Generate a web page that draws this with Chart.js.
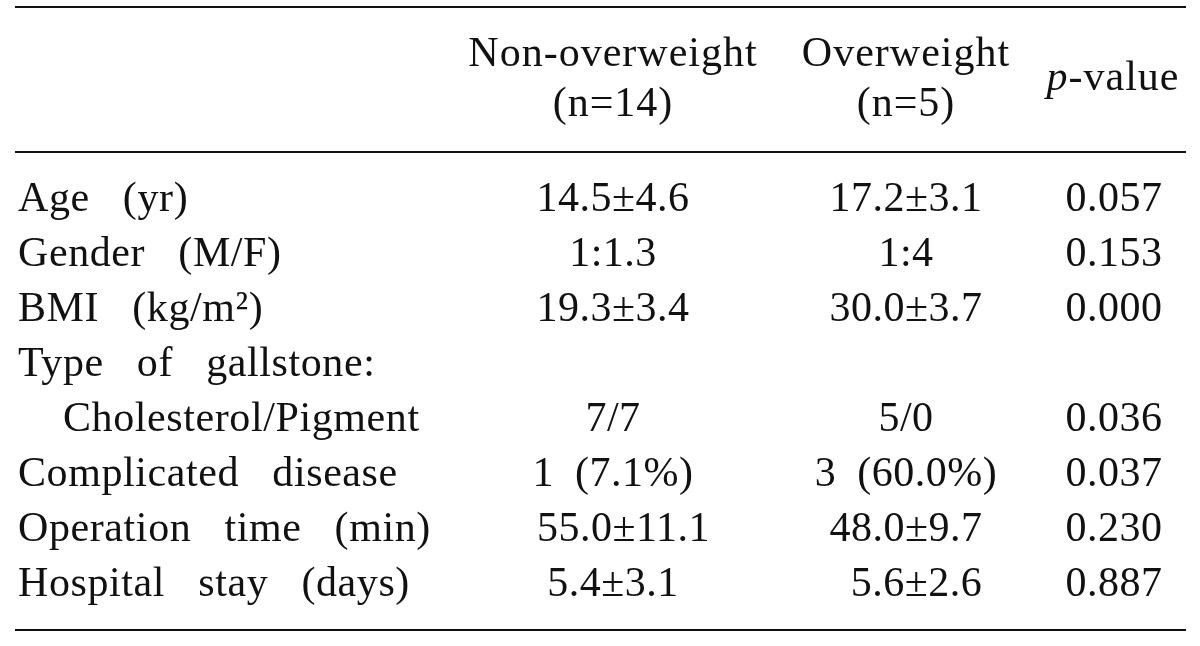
<!DOCTYPE html>
<html lang="en">
<head>
<meta charset="UTF-8">
<title>Gallstone patients: non-overweight vs overweight</title>
<script src="https://cdn.jsdelivr.net/npm/chart.js"></script>
<style>
  html, body { margin: 0; padding: 0; background: #fff; }
</style>
</head>
<body>
<canvas id="tableChart" width="1200" height="646"></canvas>
<script>
// Table content
const rowLabels = ['Age (yr)', 'Gender (M/F)', 'BMI (kg/m\u00B2)', 'Type of gallstone:', 'Cholesterol/Pigment',
                   'Complicated disease', 'Operation time (min)', 'Hospital stay (days)'];
const nonOverweight = ['14.5\u00B14.6', '1:1.3', '19.3\u00B13.4', '', '7/7', '1 (7.1%)', ' 55.0\u00B111.1', '5.4\u00B13.1'];
const overweight = ['17.2\u00B13.1', '1:4', '30.0\u00B13.7', '', '5/0', '3 (60.0%)', '48.0\u00B19.7', ' 5.6\u00B12.6'];
const pValues = ['0.057', '0.153', '0.000', '', '0.036', '0.037', '0.230', '0.887'];
const nonOverweightHeader = ['Non-overweight', '(n=14)'];
const overweightHeader = ['Overweight', '(n=5)'];
const pValueHeader = ['p', '-value'];   // first part is italic

// Layout, in scale units (x: reference px, y: body row index)
const colAnchor = [18, 613, 906, 1114];
const pHeaderAnchor = 1113;
const headerRows = [-2.636, -1.727];
const pHeaderRow = -2.2;
const ruleRows = [-3.71, -1.07, 7.62];
const ruleSpan = [15, 1186];
const labelIndent = [0, 0, 0, 0, 45, 0, 0, 0];

const FONT = '"Liberation Serif", "Times New Roman", serif';

// Rules, then text drawn at every point of a dataset instead of a marker
const cellTextPlugin = {
    id: 'cellText',
    beforeDatasetsDraw(chart) {
        const { ctx } = chart;
        const x = chart.scales.x, y = chart.scales.y;
        ctx.save();
        ctx.strokeStyle = '#111';
        ctx.lineWidth = 2;
        ruleRows.forEach(r => {
            const py = Math.round(y.getPixelForValue(r));
            ctx.beginPath();
            ctx.moveTo(x.getPixelForValue(ruleSpan[0]), py);
            ctx.lineTo(x.getPixelForValue(ruleSpan[1]), py);
            ctx.stroke();
        });
        ctx.restore();
    },
    afterDatasetsDraw(chart) {
        const { ctx } = chart;
        chart.data.datasets.forEach((ds, di) => {
            const meta = chart.getDatasetMeta(di);
            meta.data.forEach((pt, j) => {
                const segs = ds.texts[j];
                if (!segs || !segs.length) return;
                ctx.save();
                ctx.fillStyle = '#111';
                ctx.textBaseline = 'alphabetic';
                ctx.textAlign = 'left';
                ctx.letterSpacing = ds.letterSpacing || '0px';
                ctx.wordSpacing = ds.wordSpacing || '0px';
                const parts = segs.map(s => {
                    ctx.font = (s.italic ? 'italic ' : '') + '42px ' + FONT;
                    return { text: s.text, font: ctx.font, w: ctx.measureText(s.text).width };
                });
                const total = parts.reduce((a, p) => a + p.w, 0);
                let px = pt.x;
                if (ds.align === 'center') px -= total / 2;
                if (ds.indent) px += ds.indent[j] || 0;
                parts.forEach(p => {
                    ctx.font = p.font;
                    ctx.fillText(p.text, px, pt.y);
                    px += p.w;
                });
                ctx.restore();
            });
        });
    }
};

function plain(arr) { return arr.map(t => t ? [{ text: t }] : []); }

const datasets = [
    { texts: plain(rowLabels), data: rowLabels.map((_, i) => ({ x: colAnchor[0], y: i })),
      align: 'left', wordSpacing: '22px', letterSpacing: '0.6px', indent: labelIndent },
    { texts: plain(nonOverweight), data: nonOverweight.map((_, i) => ({ x: colAnchor[1], y: i })),
      align: 'center', letterSpacing: '0.5px', wordSpacing: '10px' },
    { texts: plain(overweight), data: overweight.map((_, i) => ({ x: colAnchor[2], y: i })),
      align: 'center', letterSpacing: '0.5px', wordSpacing: '10px' },
    { texts: plain(pValues), data: pValues.map((_, i) => ({ x: colAnchor[3], y: i })),
      align: 'center', letterSpacing: '0.5px' },
    { texts: plain(nonOverweightHeader), data: headerRows.map(r => ({ x: colAnchor[1], y: r })),
      align: 'center', letterSpacing: '1px' },
    { texts: plain(overweightHeader), data: headerRows.map(r => ({ x: colAnchor[2], y: r })),
      align: 'center', letterSpacing: '1px' },
    { texts: [[{ text: pValueHeader[0], italic: true }, { text: pValueHeader[1] }]],
      data: [{ x: pHeaderAnchor, y: pHeaderRow }], align: 'center', letterSpacing: '1px' }
];

new Chart(document.getElementById('tableChart'), {
    type: 'scatter',
    data: { datasets: datasets.map(d => Object.assign({ pointRadius: 0, pointHoverRadius: 0 }, d)) },
    options: {
        responsive: false,
        animation: false,
        devicePixelRatio: 1,
        layout: { padding: 0 },
        events: [],
        plugins: { legend: { display: false }, tooltip: { enabled: false } },
        scales: {
            x: { type: 'linear', min: 0, max: 1200, display: false },
            y: { type: 'linear', min: -3.836, max: 7.909, reverse: true, display: false }
        }
    },
    plugins: [cellTextPlugin]
});
</script>
</body>
</html>
